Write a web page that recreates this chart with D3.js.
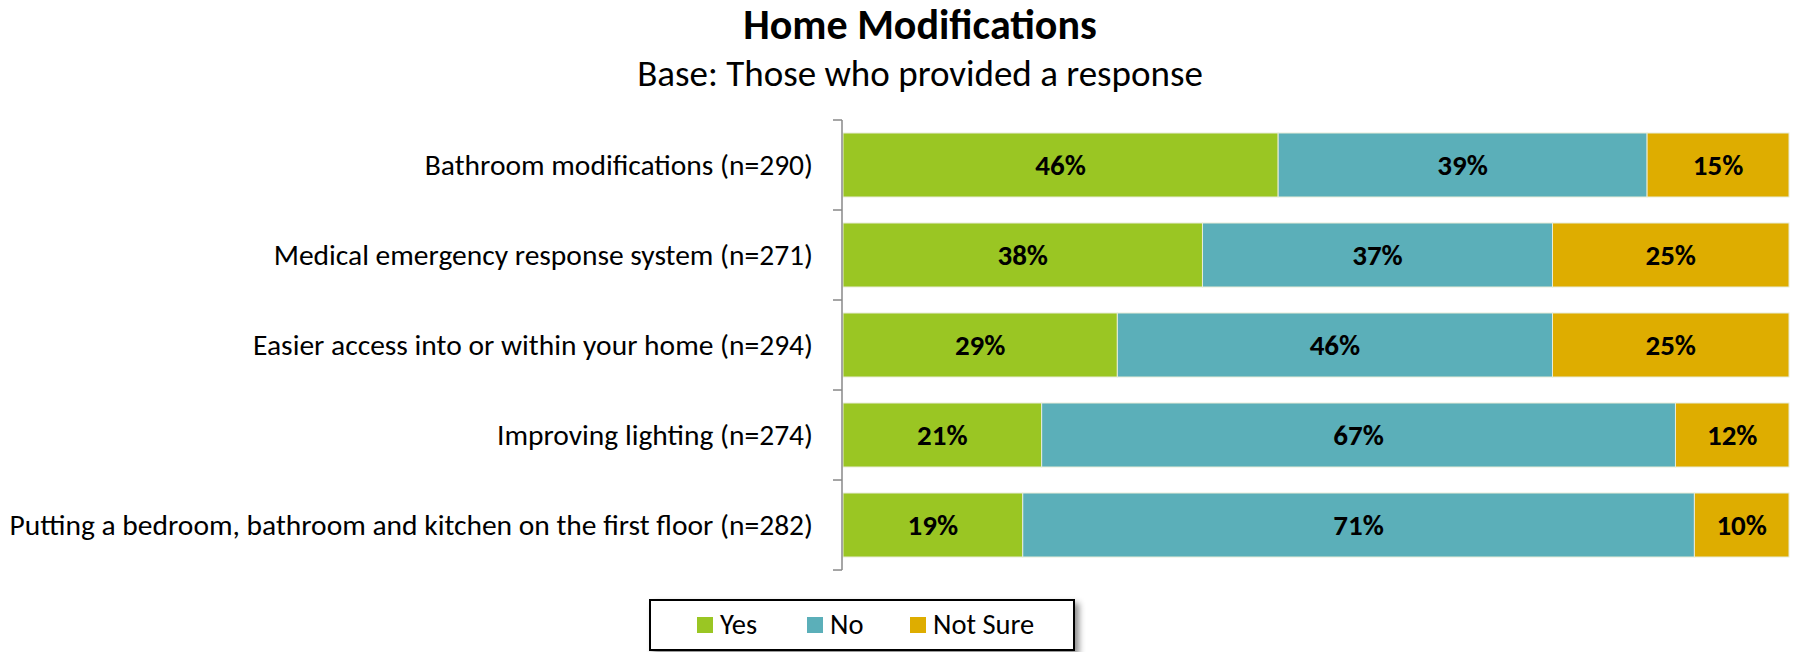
<!DOCTYPE html>
<html>
<head>
<meta charset="utf-8">
<script src="https://cdn.jsdelivr.net/npm/d3@7"></script>
<style>
  body { margin: 0; background: #fff; }
  svg { display: block; font-family: Carlito, Calibri, "Open Sans", sans-serif; }
</style>
</head>
<body>
<svg id="chart" width="1798" height="652"></svg>
<script>
var categories = [
    "Bathroom modifications (n=290)",
    "Medical emergency response system (n=271)",
    "Easier access into or within your home (n=294)",
    "Improving lighting (n=274)",
    "Putting a bedroom, bathroom and kitchen on the first floor (n=282)"
];
var seriesNames = ["Yes", "No", "Not Sure"];
var yesVals = [46, 38, 29, 21, 19];
var noVals = [39, 37, 46, 67, 71];
var notSureVals = [15, 25, 25, 12, 10];
var colors = ["#9AC623", "#5BAFB9", "#DEAD00"];

var svg = d3.select("#chart");
var plotLeft = 843, plotRight = 1789, plotTop = 120, plotBottom = 570;

var rows = categories.map(function(c, i) {
    return { cat: c, vals: [yesVals[i], noVals[i], notSureVals[i]] };
});

var x = d3.scaleLinear().domain([0, 100]).range([plotLeft, plotRight]);
var y = d3.scaleBand().domain(categories).range([plotTop, plotBottom])
    .paddingInner(0.289).paddingOuter(0.1444);

// title
svg.append("text").attr("x", 920).attr("y", 39).attr("text-anchor", "middle")
    .style("font-size", "42px").style("font-weight", "bold").text("Home Modifications");
svg.append("text").attr("x", 920).attr("y", 86).attr("text-anchor", "middle")
    .style("font-size", "37px").text("Base: Those who provided a response");

// bars
var rowG = svg.selectAll(".row").data(rows).enter().append("g")
    .attr("class", "row")
    .attr("transform", function(d) { return "translate(0," + y(d.cat) + ")"; });

rowG.each(function(d) {
    var g = d3.select(this);
    var acc = 0;
    d.vals.forEach(function(v, k) {
        var x0 = x(acc), x1 = x(acc + v);
        g.append("rect")
            .attr("x", x0).attr("y", 0)
            .attr("width", x1 - x0).attr("height", y.bandwidth())
            .attr("fill", colors[k])
            .attr("stroke", "#e8ecd8").attr("stroke-width", 1);
        g.append("text")
            .attr("x", (x0 + x1) / 2).attr("y", y.bandwidth() / 2)
            .attr("dy", "0.35em").attr("text-anchor", "middle")
            .style("font-size", "29px").style("font-weight", "bold")
            .text(v + "%");
        acc += v;
    });
});

// category axis
var axis = svg.append("g");
axis.append("line").attr("x1", plotLeft - 1).attr("x2", plotLeft - 1)
    .attr("y1", plotTop).attr("y2", plotBottom).attr("stroke", "#888").attr("stroke-width", 1.5);
d3.range(categories.length + 1).forEach(function(i) {
    var yy = plotTop + i * y.step();
    axis.append("line").attr("x1", plotLeft - 10).attr("x2", plotLeft - 1)
        .attr("y1", yy).attr("y2", yy).attr("stroke", "#888").attr("stroke-width", 1.5);
});
svg.selectAll(".cat").data(categories).enter().append("text")
    .attr("class", "cat")
    .attr("x", 813)
    .attr("y", function(d) { return y(d) + y.bandwidth() / 2; })
    .attr("dy", "0.35em").attr("text-anchor", "end")
    .style("font-size", "29.5px")
    .text(function(d) { return d; });

// legend
var defs = svg.append("defs");
var f = defs.append("filter").attr("id", "shadow").attr("x", "-10%").attr("y", "-20%")
    .attr("width", "130%").attr("height", "160%");
f.append("feDropShadow").attr("dx", 4).attr("dy", 4).attr("stdDeviation", 3)
    .attr("flood-color", "#000").attr("flood-opacity", 0.45);

var lg = svg.append("g");
lg.append("rect").attr("x", 650).attr("y", 600).attr("width", 424).attr("height", 50)
    .attr("fill", "#fff").attr("stroke", "#000").attr("stroke-width", 2)
    .attr("filter", "url(#shadow)");
var legX = [697, 807, 910];
seriesNames.forEach(function(n, k) {
    lg.append("rect").attr("x", legX[k]).attr("y", 617).attr("width", 16).attr("height", 16)
        .attr("fill", colors[k]);
    lg.append("text").attr("x", legX[k] + 23).attr("y", 634)
        .style("font-size", "28.5px").text(n);
});
</script>
</body>
</html>
